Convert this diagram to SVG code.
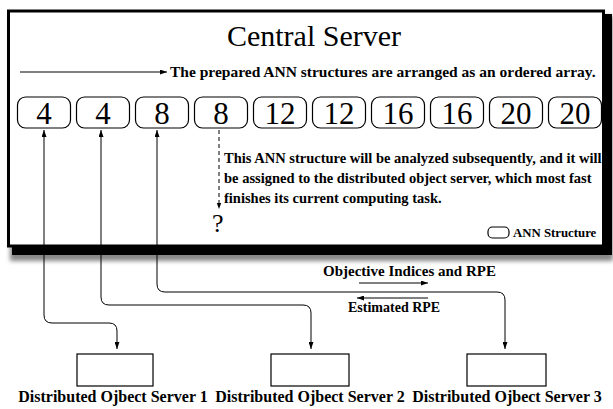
<svg xmlns="http://www.w3.org/2000/svg" width="613" height="409" viewBox="0 0 613 409">
  <style>
    .ser { font-family: "Liberation Serif", "Times New Roman", serif; fill: #000; }
    .b { font-family: "Liberation Serif", "Times New Roman", serif; font-weight: bold; fill: #000; }
    .ann { fill: #fff; stroke: #000; stroke-width: 1.2; }
    .num { font-family: "Liberation Serif", "Times New Roman", serif; font-size: 31px; text-anchor: middle; fill: #000; }
    .wire { fill: none; stroke: #000; stroke-width: 1; }
    .srv { fill: #fff; stroke: #000; stroke-width: 1.2; }
  </style>
  <defs>
    <marker id="ah" viewBox="0 0 7 5" refX="7" refY="2.5" markerWidth="7" markerHeight="5" markerUnits="userSpaceOnUse" orient="auto-start-reverse">
      <path d="M0,0 L7,2.5 L0,5 Z" fill="#000"/>
    </marker>
    <filter id="soft" x="-5%" y="-5%" width="110%" height="115%">
      <feGaussianBlur stdDeviation="2"/>
    </filter>
  </defs>
  <rect width="613" height="409" fill="#fff"/>

  <!-- central server frame with drop shadow -->
  <g id="central-server">
    <rect x="10" y="16" width="603" height="245" fill="#888" filter="url(#soft)"/>
    <rect x="12" y="14" width="600" height="241" fill="#000"/>
    <rect x="8.5" y="11" width="595" height="235" fill="#fff" stroke="#000" stroke-width="3"/>
    <text class="ser" x="314" y="46" font-size="30" text-anchor="middle">Central Server</text>
    <text class="b" x="170" y="77" font-size="15.5">The prepared ANN structures are arranged as an ordered array.</text>
  </g>

  <!-- ordered array of ANN structures -->
  <g id="ann-array">
    <g id="ann-1"><rect class="ann" x="17.5" y="97" width="53" height="31" rx="8"/><text class="num" x="44" y="124">4</text></g>
    <g id="ann-2"><rect class="ann" x="76.5" y="97" width="53" height="31" rx="8"/><text class="num" x="103" y="124">4</text></g>
    <g id="ann-3"><rect class="ann" x="135.5" y="97" width="53" height="31" rx="8"/><text class="num" x="162" y="124">8</text></g>
    <g id="ann-4"><rect class="ann" x="194.5" y="97" width="53" height="31" rx="8"/><text class="num" x="221" y="124">8</text></g>
    <g id="ann-5"><rect class="ann" x="253.5" y="97" width="53" height="31" rx="8"/><text class="num" x="280" y="124">12</text></g>
    <g id="ann-6"><rect class="ann" x="312.5" y="97" width="53" height="31" rx="8"/><text class="num" x="339" y="124">12</text></g>
    <g id="ann-7"><rect class="ann" x="371.5" y="97" width="53" height="31" rx="8"/><text class="num" x="398" y="124">16</text></g>
    <g id="ann-8"><rect class="ann" x="430.5" y="97" width="53" height="31" rx="8"/><text class="num" x="457" y="124">16</text></g>
    <g id="ann-9"><rect class="ann" x="489.5" y="97" width="53" height="31" rx="8"/><text class="num" x="516" y="124">20</text></g>
    <g id="ann-10"><rect class="ann" x="548.5" y="97" width="53" height="31" rx="8"/><text class="num" x="575" y="124">20</text></g>
  </g>

  <!-- note on the next structure -->
  <g id="next-note">
    <text class="b" x="224" y="163" font-size="14.5">This ANN structure will be analyzed subsequently, and it will</text>
    <text class="b" x="224" y="183" font-size="14.5">be assigned to the distributed object server, which most fast</text>
    <text class="b" x="224" y="203" font-size="14.5">finishes its current computing task.</text>
    <text class="ser" x="212" y="232" font-size="26">?</text>
  </g>

  <!-- legend -->
  <g id="legend">
    <rect class="ann" x="488" y="227" width="21" height="11" rx="4.5" stroke-width="1"/>
    <text class="b" x="513" y="237" font-size="12.8">ANN Structure</text>
  </g>

  <!-- message labels -->
  <g id="messages">
    <text class="b" x="323" y="276" font-size="15">Objective Indices and RPE</text>
    <text class="b" x="348" y="312" font-size="14">Estimated RPE</text>
  </g>

  <!-- distributed object servers -->
  <g id="server-1">
    <rect class="srv" x="77" y="354" width="76" height="32"/>
    <text class="b" x="113" y="402" font-size="16" text-anchor="middle">Distributed Ojbect Server 1</text>
  </g>
  <g id="server-2">
    <rect class="srv" x="271" y="354" width="78" height="32"/>
    <text class="b" x="310" y="402" font-size="16" text-anchor="middle">Distributed Ojbect Server 2</text>
  </g>
  <g id="server-3">
    <rect class="srv" x="467" y="354" width="79" height="32"/>
    <text class="b" x="507" y="402" font-size="16" text-anchor="middle">Distributed Ojbect Server 3</text>
  </g>

  <!-- connectors -->
  <g id="connectors">
    <line class="wire" x1="20" y1="72" x2="167" y2="72" marker-end="url(#ah)"/>
    <path class="wire" d="M219,130 L219,206" stroke-dasharray="4,3"/>
    <path d="M216.8,203 L221.2,203 L219,209 Z" fill="#000"/>
    <path class="wire" d="M117,349 L117,331 Q117,323 109,323 L52,323 Q44,323 44,315 L44,130" marker-end="url(#ah)" marker-start="url(#ah)"/>
    <path class="wire" d="M311,349 L311,313 Q311,305 303,305 L109,305 Q101,305 101,297 L101,130" marker-end="url(#ah)" marker-start="url(#ah)"/>
    <path class="wire" d="M505,349 L505,300 Q505,292 497,292 L165,292 Q157,292 157,284 L157,130" marker-end="url(#ah)" marker-start="url(#ah)"/>
    <line class="wire" x1="359" y1="283" x2="428" y2="283" marker-end="url(#ah)"/>
    <line class="wire" x1="428" y1="298" x2="357" y2="298" marker-end="url(#ah)"/>
  </g>
</svg>
